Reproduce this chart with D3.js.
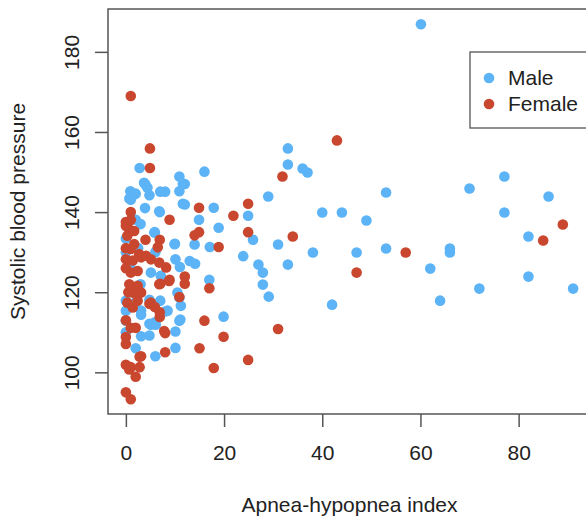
<!DOCTYPE html>
<html>
<head>
<meta charset="utf-8">
<script src="https://cdn.jsdelivr.net/npm/d3@7"></script>
<style>
  body { margin: 0; background: #fff; }
  text { font-family: "Liberation Sans", Arial, sans-serif; fill: #222; }
</style>
</head>
<body>
<div id="chart"></div>
<script>
// apnea-hypopnea index (x) and systolic blood pressure (y)
var maleAhi = [60.1, 2.8, 10.9, 16.0, 4.0, 12.0, 0.9, 1.5, 1.0, 4.8, 7.0, 8.0, 10.9, 3.9, 6.9, 12.0, 17.9, 2.0, 14.9, 24.9,
  18.9, 25.9, 5.9, 10.0, 14.0, 17.1, 33.0, 33.0, 36.0, 37.0, 29.0, 40.0, 44.0, 53.0, 49.0, 70.0, 77.1, 77.1, 86.1, 82.0,
  31.0, 38.1, 47.0, 53.0, 66.0, 66.0, 27.0, 27.9, 33.0, 62.0, 27.9, 29.1, 42.0, 64.0, 72.0, 82.0, 91.1, 23.9, 10.1, 11.0,
  13.0, 14.1, 17.0, 19.9, 10.9, 10.1, 10.1, 6.0, 4.8, 2.0, 0.0, 0.0, 3.1, 2.0, 4.8, 5.9, 8.0, 3.7, 4.4, 0.7,
  2.0, 11.6, 11.6, 6.8, 0.0, 5.8, 9.9, 0.0, 5.1, 7.1, 10.5, 10.9, 11.2, 8.5, 0.0, 0.0, 3.1, 5.1, 6.1, 3.1,
  4.8, 7.0, 11.1, 1.0, 3.0, 1.5, 6.0, 3.0, 2.5];
var maleSbp = [186.9, 151, 148.9, 150.1, 146.9, 147, 145.2, 144.2, 143.1, 144.2, 145.1, 145.1, 145.2, 141, 140, 141.9, 141.1, 138.1, 138.1, 139.1,
  136.1, 133.1, 135, 132.1, 131.9, 131.3, 155.9, 151.9, 150.9, 149.9, 143.9, 139.9, 139.9, 144.9, 137.9, 145.9, 148.9, 139.9, 143.9, 133.9,
  131.9, 129.9, 129.9, 130.9, 130.9, 129.9, 126.9, 124.9, 126.9, 125.9, 121.9, 118.9, 116.9, 117.9, 120.9, 123.9, 120.9, 129, 128.2, 126.3,
  127.8, 127.1, 123.1, 113.9, 112.9, 110.2, 106.1, 104, 109.2, 106, 112.9, 110, 115.4, 117.5, 112.1, 112.5, 115.2, 147.3, 146.1, 143.4,
  144.6, 147.1, 142.1, 140.2, 133.4, 134.9, 132, 130, 124.9, 124.1, 119.9, 118.7, 116.6, 115.4, 117.9, 115.4, 114.4, 111.9, 111.9, 109,
  118.1, 117.9, 113.2, 126, 122, 120, 130, 137, 131];

var femaleAhi = [1.0, 4.9, 4.9, 14.9, 1.0, 8.9, 21.9, 24.9, 24.9, 0.5, 0.0, 14.9, 14.0, 6.9, 4.0, 18.9, 43.0, 31.9, 89.0, 85.0,
  34.0, 57.0, 47.0, 12.0, 12.0, 17.0, 10.9, 8.9, 7.0, 16.0, 19.9, 15.0, 24.9, 17.9, 8.0, 8.0, 0.0, 1.0, 0.0, 1.0,
  2.8, 2.0, 2.8, 0.0, 0.0, 1.0, 2.0, 4.8, 5.9, 6.9, 6.9, 0.0, 0.3, 1.7, 6.5, 1.7, 1.0, 2.7, 0.0, 1.4,
  3.1, 4.1, 5.1, 6.8, 8.2, 1.0, 2.4, 0.7, 2.4, 1.4, 3.1, 2.4, 0.3, 1.4, 6.8, 8.8, 5.1, 7.8, 3.1, 0.7,
  31.0, 0.0, 0.0, 1.0, 0.5, 0.0];
var femaleSbp = [169, 155.9, 151, 141.1, 140, 138.1, 139.1, 142.1, 135, 136, 137.5, 135, 134.2, 133.1, 133.1, 131.3, 157.9, 148.9, 136.9, 132.9,
  133.9, 129.9, 124.9, 123.9, 122.1, 121, 118.8, 123.1, 122.1, 112.9, 108.9, 106, 103.1, 101.1, 109.8, 105, 95, 93.3, 101.9, 101.3,
  101.3, 98.9, 103.9, 108.8, 107.1, 111.1, 111.1, 117.1, 116.3, 115, 113.8, 136.6, 134.1, 135.3, 131.2, 132, 130.8, 129.5, 128.2, 127.9,
  128.7, 129.1, 128.2, 127.4, 126.2, 124.9, 125.3, 122, 121.6, 119.9, 119.9, 117.9, 117.4, 116.2, 122, 122.8, 117.4, 110.3, 104, 100.7,
  110.8, 126, 131, 138, 120, 113];

var xTicks = [0, 20, 40, 60, 80];
var yTicks = [100, 120, 140, 160, 180];
var groups = ["Male", "Female"];
var colors = ["#5cb3f6", "#c9472f"];

var width = 586, height = 518;
var box = {left: 108, top: 9, right: 591, bottom: 414};

var svg = d3.select("#chart").append("svg")
  .attr("width", width)
  .attr("height", height);

// R style range: data range padded by 4% on each side
var x = d3.scaleLinear().domain([-3.64, 94.74]).range([box.left, box.right]);
var y = d3.scaleLinear().domain([89.6, 190.7]).range([box.bottom, box.top]);

var male = maleAhi.map(function(d, i) { return {x: d, y: maleSbp[i]}; });
var female = femaleAhi.map(function(d, i) { return {x: d, y: femaleSbp[i]}; });

// points
svg.append("g").selectAll("circle.m")
  .data(male).enter().append("circle")
  .attr("cx", function(d) { return x(d.x); })
  .attr("cy", function(d) { return y(d.y); })
  .attr("r", 5.3)
  .style("fill", colors[0]);

svg.append("g").selectAll("circle.f")
  .data(female).enter().append("circle")
  .attr("cx", function(d) { return x(d.x); })
  .attr("cy", function(d) { return y(d.y); })
  .attr("r", 5.3)
  .style("fill", colors[1]);

// plot box
svg.append("rect")
  .attr("x", box.left).attr("y", box.top)
  .attr("width", box.right - box.left).attr("height", box.bottom - box.top)
  .style("fill", "none").style("stroke", "#555").style("stroke-width", 1.5);

// x axis
var xAxis = svg.append("g")
  .attr("transform", "translate(0," + box.bottom + ")")
  .call(d3.axisBottom(x).tickValues(xTicks).tickSize(13).tickPadding(18).tickSizeOuter(0));
xAxis.select(".domain").remove();
xAxis.selectAll("line").style("stroke", "#555").style("stroke-width", 1.5);
xAxis.selectAll("text").style("font-size", "21px").style("fill", "#222")
  .attr("font-family", null);

// y axis
var yAxis = svg.append("g")
  .attr("transform", "translate(" + box.left + ",0)")
  .call(d3.axisLeft(y).tickValues(yTicks).tickSize(13).tickSizeOuter(0));
yAxis.select(".domain").remove();
yAxis.selectAll("line").style("stroke", "#555").style("stroke-width", 1.5);
yAxis.selectAll("text")
  .attr("x", null).attr("dy", null)
  .attr("text-anchor", "middle")
  .attr("transform", "translate(-29,0) rotate(-90)")
  .attr("dominant-baseline", "auto")
  .style("font-size", "21px").style("fill", "#222");

// axis titles
svg.append("text")
  .attr("x", (box.left + box.right) / 2)
  .attr("y", 512)
  .attr("text-anchor", "middle")
  .style("font-size", "21px")
  .text("Apnea-hypopnea index");

svg.append("text")
  .attr("transform", "translate(25," + (box.top + box.bottom) / 2 + ") rotate(-90)")
  .attr("text-anchor", "middle")
  .style("font-size", "21px")
  .text("Systolic blood pressure");

// legend
var legend = svg.append("g");
legend.append("rect")
  .attr("x", 470).attr("y", 52)
  .attr("width", 130).attr("height", 76)
  .style("fill", "#fff").style("stroke", "#555").style("stroke-width", 1.3);

legend.selectAll("circle")
  .data(groups).enter().append("circle")
  .attr("cx", 489)
  .attr("cy", function(d, i) { return 78 + i * 26; })
  .attr("r", 5.3)
  .style("fill", function(d, i) { return colors[i]; });

legend.selectAll("text")
  .data(groups).enter().append("text")
  .attr("x", 508)
  .attr("y", function(d, i) { return 85 + i * 26; })
  .style("font-size", "21px")
  .text(function(d) { return d; });
</script>
</body>
</html>
